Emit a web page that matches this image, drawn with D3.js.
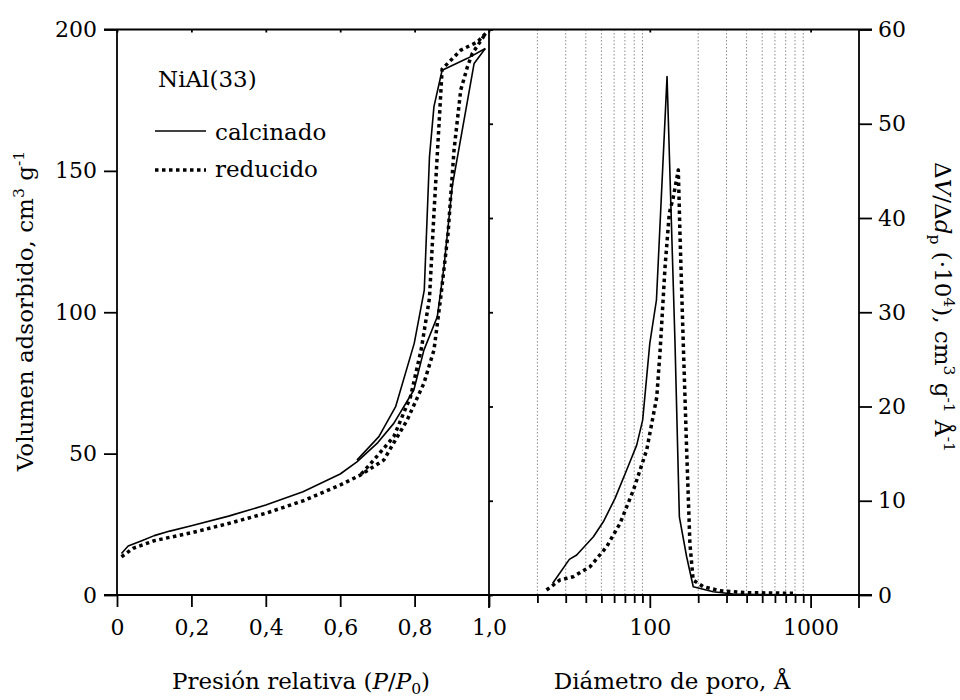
<!DOCTYPE html>
<html>
<head>
<meta charset="utf-8">
<script src="https://cdn.jsdelivr.net/npm/d3@7"></script>
<style>
body { margin: 0; background: #fff; }
text { font-family: "DejaVu Serif", serif; fill: #000; }
</style>
</head>
<body>
<div id="chart"></div>
<script>
// isotherm, calcinado (solid)
var calcAdsP = [0.012, 0.03, 0.07, 0.1, 0.142, 0.2, 0.3, 0.4, 0.5, 0.6, 0.645, 0.699, 0.744, 0.798, 0.825, 0.861, 0.879, 0.901, 0.933, 0.96, 0.99];
var calcAdsV = [14.7, 17.3, 19.4, 21, 22.6, 24.5, 27.9, 31.8, 36.5, 42.8, 47.1, 53.6, 60.7, 72.5, 86.6, 98.4, 116, 144.4, 168, 188, 193.3];
var calcDesP = [0.99, 0.942, 0.874, 0.852, 0.84, 0.826, 0.799, 0.749, 0.704, 0.645];
var calcDesV = [193.3, 189.8, 185.6, 172.7, 155, 107.8, 89, 66.6, 56, 47.7];
// isotherm, reducido (dotted)
var redAdsP = [0.012, 0.043, 0.1, 0.142, 0.2, 0.3, 0.4, 0.5, 0.6, 0.654, 0.717, 0.78, 0.825, 0.852, 0.87, 0.89, 0.906, 0.924, 0.942, 0.955, 0.991];
var redAdsV = [13.5, 16.5, 19.2, 20.4, 22, 25.3, 28.9, 33.3, 38.9, 42.4, 47.7, 61.9, 74.9, 86.6, 105, 128, 157.4, 178.6, 186.8, 191.5, 198.6];
var redDesP = [0.991, 0.969, 0.924, 0.874, 0.865, 0.852, 0.84, 0.818, 0.789, 0.744, 0.69, 0.654];
var redDesV = [198.6, 195.6, 192.7, 186, 165, 135, 105, 87, 70.1, 56, 47.7, 42.4];

// pore size distribution
var calcPoreD = [24.9, 31.6, 35.1, 44.6, 51.4, 60.8, 71.8, 82.9, 90.3, 100, 110, 128, 143.5, 152.7, 169.5, 186.3, 248, 330, 450, 600, 800];
var calcPoreV = [1.24, 3.78, 4.24, 6.18, 7.77, 10.25, 13.26, 15.9, 18.56, 26.7, 31.3, 55.0, 26.7, 8.3, 4.06, 0.88, 0.35, 0.1, 0.05, 0.03, 0.02];
var redPoreD = [22.8, 27.6, 33.4, 42.5, 53.9, 65.3, 79.1, 95.7, 110.5, 116, 124.4, 132.2, 140, 150.4, 154, 161.5, 169.5, 177.6, 186, 215, 273, 398, 777];
var redPoreV = [0.53, 1.59, 1.94, 3.0, 5.12, 7.6, 11.13, 15.4, 21.0, 26.0, 34.8, 40.5, 42.2, 45.1, 38.4, 26.7, 15.4, 5.48, 1.59, 0.88, 0.46, 0.25, 0.18];

var leftXTicks = [0, 0.2, 0.4, 0.6, 0.8, 1.0];
var leftYTicks = [0, 50, 100, 150, 200];
var rightYTicks = [0, 10, 20, 30, 40, 50, 60];
var rightXMajor = [100, 1000];
var rightXMinor = [20, 30, 40, 50, 60, 70, 80, 90, 200, 300, 400, 500, 600, 700, 800, 900];

var width = 960, height = 700;
var svg = d3.select("#chart").append("svg")
  .attr("width", width)
  .attr("height", height);

var xL = d3.scaleLinear().domain([0, 1]).range([117, 489]);
var yL = d3.scaleLinear().domain([0, 200]).range([595, 29.5]);
var xR = d3.scaleLog().domain([10, 2000]).range([489, 859]);
var yR = d3.scaleLinear().domain([0, 60]).range([595, 29.5]);

// dotted grid in the right panel
svg.selectAll(".grid")
  .data(rightXMinor)
  .enter().append("line")
  .attr("class", "grid")
  .attr("x1", function(d){ return xR(d); })
  .attr("x2", function(d){ return xR(d); })
  .attr("y1", yR(60))
  .attr("y2", yR(0))
  .attr("stroke", "#8c8c8c")
  .attr("stroke-width", 1)
  .attr("stroke-dasharray", "1.5,2");

function styleAxis(g, size) {
  g.select(".domain").remove();
  g.selectAll("line").attr("stroke", "#000").attr("stroke-width", 1.8);
  g.selectAll("text")
    .attr("font-family", "DejaVu Serif, serif")
    .attr("font-size", size || 22)
    .attr("fill", "#000");
}

var commaFmt = function(d){ return d === 0 ? "0" : d3.format(".1f")(d).replace(".", ","); };

styleAxis(svg.append("g").attr("transform", "translate(117,0)")
  .call(d3.axisLeft(yL).tickValues(leftYTicks).tickSize(13).tickPadding(7).tickFormat(d3.format("d"))));
styleAxis(svg.append("g").attr("transform", "translate(0,595)")
  .call(d3.axisBottom(xL).tickValues(leftXTicks).tickSize(12).tickPadding(12).tickFormat(commaFmt)));
styleAxis(svg.append("g").attr("transform", "translate(0,595)")
  .call(d3.axisBottom(xR).tickValues(rightXMajor).tickSize(13).tickPadding(11).tickFormat(d3.format("d"))));
styleAxis(svg.append("g").attr("transform", "translate(0,595)")
  .call(d3.axisBottom(xR).tickValues(rightXMinor).tickSize(8).tickFormat("")));
styleAxis(svg.append("g").attr("transform", "translate(859,0)")
  .call(d3.axisRight(yR).tickValues(rightYTicks).tickSize(13).tickPadding(6).tickFormat(d3.format("d"))));
// small inner ticks
styleAxis(svg.append("g").attr("transform", "translate(489,0)")
  .call(d3.axisRight(yR).tickValues(rightYTicks).tickSize(4).tickFormat("")));
styleAxis(svg.append("g").attr("transform", "translate(0,29.5)")
  .call(d3.axisBottom(xL).tickValues(leftXTicks).tickSize(3).tickFormat("")));
styleAxis(svg.append("g").attr("transform", "translate(0,29.5)")
  .call(d3.axisBottom(xR).tickValues(rightXMajor).tickSize(3).tickFormat("")));

// frame
var frame = svg.append("g").attr("stroke", "#000").attr("stroke-width", 1.8);
frame.append("line").attr("x1", 104).attr("x2", 872).attr("y1", yL(0)).attr("y2", yL(0));
frame.append("line").attr("x1", 104).attr("x2", 872).attr("y1", yL(200)).attr("y2", yL(200));
frame.append("line").attr("x1", xL(0)).attr("x2", xL(0)).attr("y1", yL(200)).attr("y2", yL(0));
frame.append("line").attr("x1", xL(1)).attr("x2", xL(1)).attr("y1", yL(200)).attr("y2", yL(0) + 13);
frame.append("line").attr("x1", xR(2000)).attr("x2", xR(2000)).attr("y1", yL(200)).attr("y2", yL(0) + 13);

// curves
var lineL = d3.line().x(function(d){ return xL(d[0]); }).y(function(d){ return yL(d[1]); });
var lineR = d3.line().x(function(d){ return xR(d[0]); }).y(function(d){ return yR(d[1]); });

function drawCurve(path, dotted) {
  svg.append("path")
    .attr("d", path)
    .attr("fill", "none")
    .attr("stroke", "#000")
    .attr("stroke-width", dotted ? 3.5 : 1.6)
    .attr("stroke-dasharray", dotted ? "3.5,3.5" : null)
    .attr("stroke-linejoin", "round");
}

drawCurve(lineL(d3.zip(calcAdsP, calcAdsV)), false);
drawCurve(lineL(d3.zip(calcDesP, calcDesV)), false);
drawCurve(lineL(d3.zip(redAdsP, redAdsV)), true);
drawCurve(lineL(d3.zip(redDesP, redDesV)), true);
drawCurve(lineR(d3.zip(calcPoreD, calcPoreV)), false);
drawCurve(lineR(d3.zip(redPoreD, redPoreV)), true);

// rich text helper (sup / sub / italic)
function rich(sel, parts) {
  var shift = 0;
  parts.forEach(function(p){
    var target = p.sup ? -9 : (p.sub ? 5 : 0);
    var t = sel.append("tspan").text(p.t).attr("dy", target - shift);
    shift = target;
    if (p.sup || p.sub) t.attr("font-size", "0.68em");
    if (p.it) t.attr("font-style", "italic");
  });
}

// legend
svg.append("text").attr("x", 158).attr("y", 87).attr("font-size", 23).text("NiAl(33)");
svg.append("line").attr("x1", 155).attr("x2", 206).attr("y1", 131).attr("y2", 131)
  .attr("stroke", "#000").attr("stroke-width", 1.6);
svg.append("text").attr("x", 215).attr("y", 140).attr("font-size", 23).text("calcinado");
svg.append("line").attr("x1", 155).attr("x2", 206).attr("y1", 170).attr("y2", 170)
  .attr("stroke", "#000").attr("stroke-width", 3.5).attr("stroke-dasharray", "3.5,3.5");
svg.append("text").attr("x", 215).attr("y", 177).attr("font-size", 23).text("reducido");

// axis titles
rich(svg.append("text").attr("transform", "translate(33,311) rotate(-90)")
  .attr("text-anchor", "middle").attr("font-size", 23),
  [{t: "Volumen adsorbido, cm"}, {t: "3", sup: true}, {t: " g"}, {t: "-1", sup: true}]);

rich(svg.append("text").attr("x", 301).attr("y", 689)
  .attr("text-anchor", "middle").attr("font-size", 23),
  [{t: "Presión relativa ("}, {t: "P", it: true}, {t: "/"}, {t: "P", it: true}, {t: "0", sub: true}, {t: ")"}]);

svg.append("text").attr("x", 672).attr("y", 689)
  .attr("text-anchor", "middle").attr("font-size", 23)
  .text("Diámetro de poro, Å");

rich(svg.append("text").attr("transform", "translate(935,307) rotate(90)")
  .attr("text-anchor", "middle").attr("font-size", 23),
  [{t: "Δ"}, {t: "V", it: true}, {t: "/Δ"}, {t: "d", it: true}, {t: "p", sub: true},
   {t: " (·10"}, {t: "4", sup: true}, {t: "), cm"}, {t: "3", sup: true},
   {t: " g"}, {t: "-1", sup: true}, {t: " Å"}, {t: "-1", sup: true}]);
</script>
</body>
</html>
